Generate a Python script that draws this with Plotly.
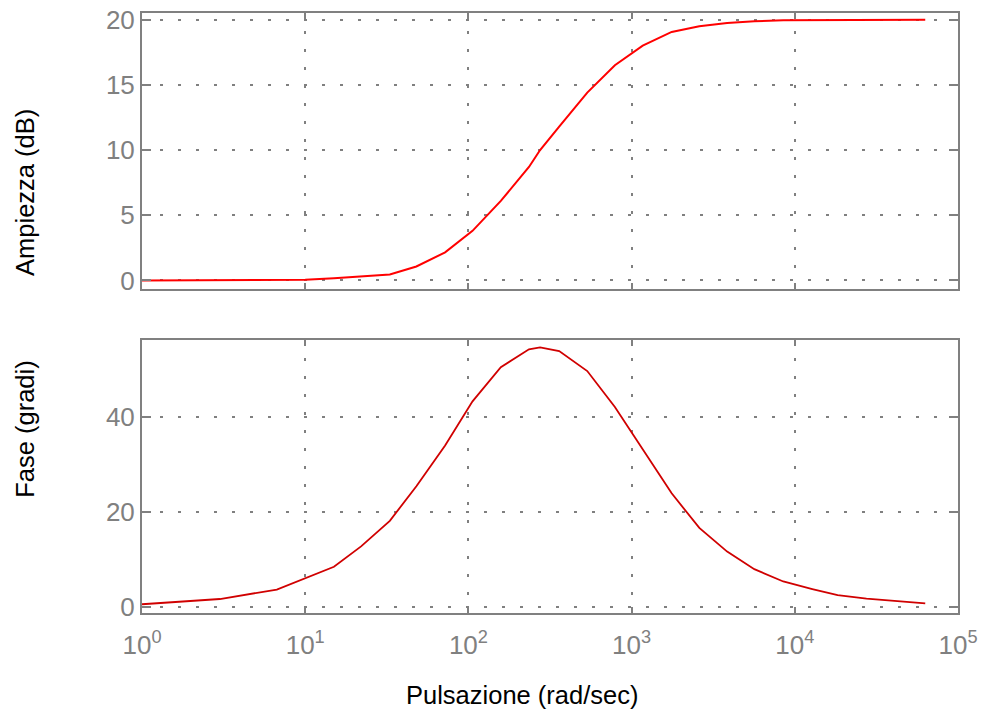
import plotly.graph_objects as go
from plotly.subplots import make_subplots

# Frequency samples (rad/sec) and the Bode response of the lead network
omega = [1, 3, 6.7, 10, 15, 22, 33, 48, 72, 106, 158, 235, 275, 360, 535, 790,
         1170, 1760, 2600, 3850, 5650, 8500, 12800, 18300, 27500, 63000]
mag_db = [0.0, 0.0, 0.02, 0.05, 0.16, 0.3, 0.45, 1.07, 2.15, 3.8, 6.1, 8.7, 10.0,
          11.8, 14.4, 16.5, 18.0, 19.06, 19.5, 19.75, 19.88, 19.95, 19.97, 19.98,
          19.99, 20.0]
phase_deg = [0.5, 1.6, 3.6, 6.0, 8.4, 12.7, 18.1, 25.4, 34.0, 43.3, 50.5, 54.3,
             54.7, 53.9, 49.7, 42.1, 33.2, 23.9, 16.6, 11.6, 7.9, 5.3, 3.7, 2.4,
             1.7, 0.7]

x_tickvals = [1, 10, 100, 1000, 10000, 100000]
x_ticktext = ["10<sup>%d</sup>" % k for k in range(6)]
mag_ticks = [0, 5, 10, 15, 20]
phase_ticks = [0, 20, 40]

FONT = "Liberation Sans, Arial, sans-serif"
GRAY = "#808080"

fig = make_subplots(rows=2, cols=1, shared_xaxes=True, vertical_spacing=0.085)

fig.add_trace(go.Scatter(x=omega, y=mag_db, mode="lines",
                         line=dict(color="#ff0000", width=2),
                         showlegend=False), row=1, col=1)
fig.add_trace(go.Scatter(x=omega, y=phase_deg, mode="lines",
                         line=dict(color="#d00000", width=1.8),
                         showlegend=False), row=2, col=1)

common_axis = dict(
    showline=True, linecolor=GRAY, linewidth=2, mirror="ticks",
    ticks="inside", tickcolor=GRAY, tickwidth=1.5,
    showgrid=True, gridcolor=GRAY, gridwidth=2, griddash="3px,15px",
    zeroline=False, automargin=False,
    tickfont=dict(family=FONT, size=26, color=GRAY),
)

fig.update_xaxes(type="log", range=[0, 5], tickvals=x_tickvals,
                 ticktext=x_ticktext, ticklen=6, **common_axis)
fig.update_xaxes(showticklabels=False, row=1, col=1)
fig.update_xaxes(ticklabelstandoff=8, row=2, col=1)

fig.update_yaxes(range=[-0.66, 20.51], tickvals=mag_ticks, ticklen=9,
                 domain=[0.54, 1.0], row=1, col=1, **common_axis)
fig.update_yaxes(range=[-1.35, 56.25], tickvals=phase_ticks, ticklen=9,
                 domain=[0.0, 0.455], row=2, col=1, **common_axis)

title_font = dict(family=FONT, size=25.5, color="#000000")
fig.add_annotation(text="Ampiezza (dB)", xref="paper", yref="paper",
                   x=-0.1434, y=0.7017, textangle=-90, showarrow=False,
                   font=title_font, xanchor="center", yanchor="middle")
fig.add_annotation(text="Fase (gradi)", xref="paper", yref="paper",
                   x=-0.1434, y=0.307, textangle=-90, showarrow=False,
                   font=title_font, xanchor="center", yanchor="middle")
fig.add_annotation(text="Pulsazione (rad/sec)", xref="paper", yref="paper",
                   x=0.4657, y=-0.1367, showarrow=False,
                   font=title_font, xanchor="center", yanchor="middle")

fig.update_layout(
    width=982, height=716,
    margin=dict(l=142, r=24, t=13, b=103),
    paper_bgcolor="white", plot_bgcolor="white",
    font=dict(family=FONT),
)

fig.write_html("out.html")
